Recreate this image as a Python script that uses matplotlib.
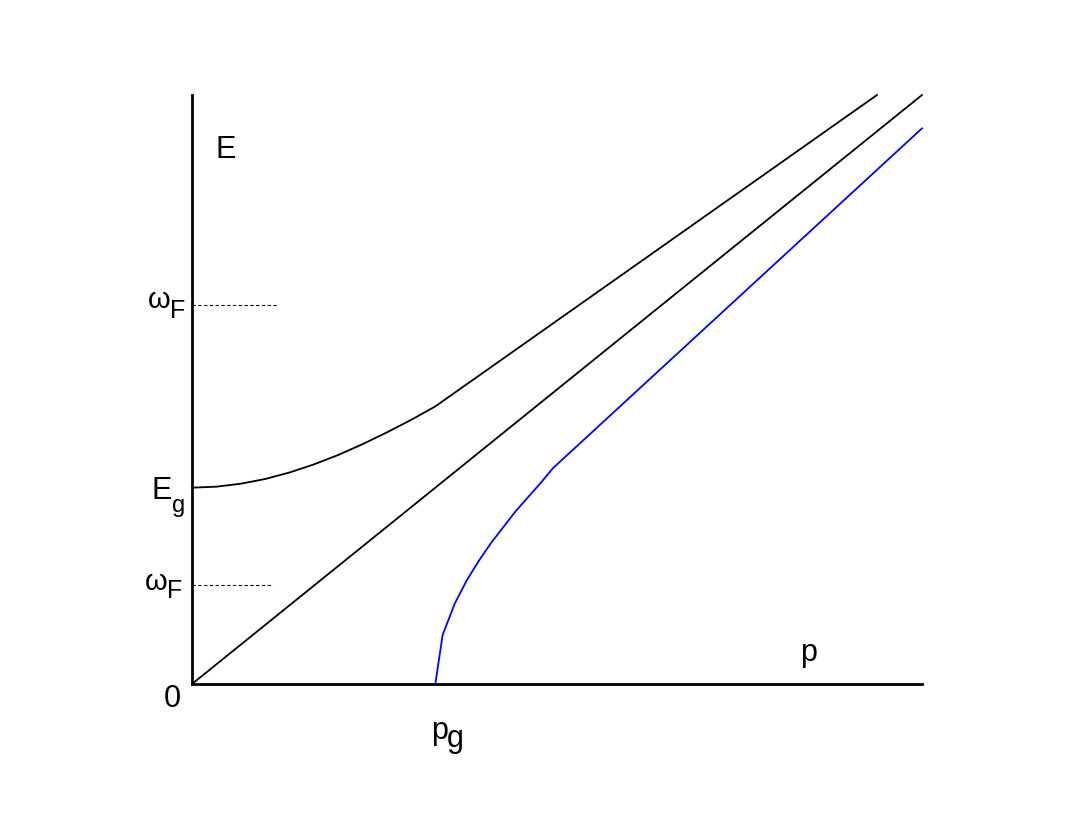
import matplotlib
matplotlib.use("Agg")
import matplotlib.pyplot as plt

plt.rcParams['font.family'] = ['Liberation Sans', 'DejaVu Sans']

# Data (momentum p in units of p_g, energy in units of E_g)
diag_p = [0.0, 3.0]
diag_E = [0.0, 3.0]

upper_p = [0.0, 0.1, 0.2, 0.3, 0.4, 0.5, 0.6, 0.7, 0.8, 0.9, 1.0, 2.815]
upper_E = [1.0, 1.005, 1.02, 1.044, 1.077, 1.118, 1.166, 1.221, 1.281, 1.345, 1.414, 3.0]

blue_p = [1.0, 1.03, 1.08, 1.13, 1.18, 1.23, 1.28, 1.33, 1.38, 1.43, 1.484, 3.0]
blue_E = [0.0, 0.25, 0.41, 0.53, 0.63, 0.72, 0.80, 0.88, 0.95, 1.02, 1.10, 2.83]

omegaF_levels = [1.93, 0.504]
omegaF_ends = [0.349, 0.333]

W, H = 1072, 821
fig = plt.figure(figsize=(W / 100, H / 100), dpi=100)
ax = fig.add_axes([192 / W, 1 - 684 / H, (922 - 192) / W, (684 - 95) / H])
ax.set_xlim(0, 3)
ax.set_ylim(0, 3)
for s in ['top', 'right']:
    ax.spines[s].set_visible(False)
for s in ['left', 'bottom']:
    ax.spines[s].set_linewidth(2.0)
ax.set_xticks([])
ax.set_yticks([])

ax.plot(diag_p, diag_E, color='black', lw=1.3, clip_on=False)
ax.plot(upper_p, upper_E, color='black', lw=1.3, clip_on=False)
ax.plot(blue_p, blue_E, color='blue', lw=1.3, clip_on=False)
for lev, end in zip(omegaF_levels, omegaF_ends):
    ax.plot([0, end], [lev, lev], color='black', lw=0.8, dashes=(3, 2.2))


def ftext(x, y, s, size):
    fig.text(x / W, 1 - y / H, s, fontsize=size, ha='left', va='baseline')


ftext(216, 158, 'E', 22)
ftext(148, 308, 'ω', 21)
ftext(170, 318, 'F', 18)
ftext(145, 590, 'ω', 21)
ftext(167, 598, 'F', 18)
ftext(152, 499, 'E', 22)
ftext(172, 512, 'g', 17)
ftext(164, 707, '0', 22)
ftext(800, 661, 'p', 22)
ftext(431, 739, 'p', 22)
ftext(447, 747, 'g', 22)

fig.savefig('out.png', dpi=100)
